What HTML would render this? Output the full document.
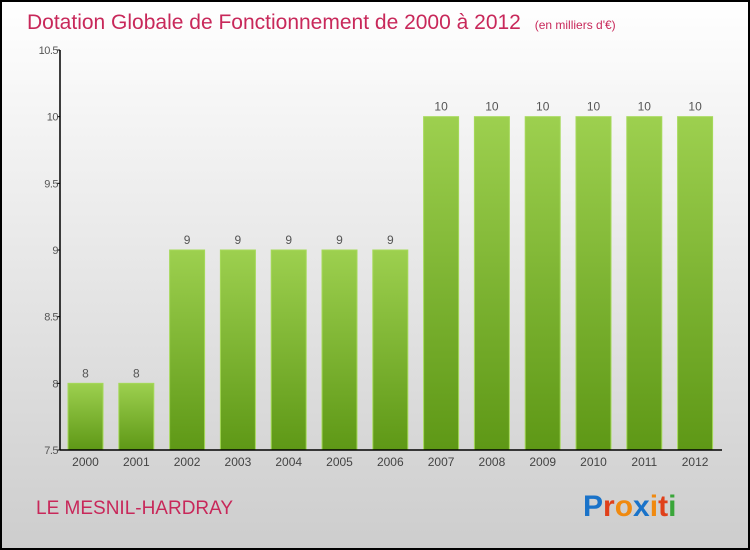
<!DOCTYPE html>
<html><head><meta charset="utf-8"><style>
body{margin:0;width:750px;height:550px;overflow:hidden}
svg{display:block}
text{font-family:"Liberation Sans",sans-serif}
</style></head><body>
<svg id="c" width="750" height="550">
<defs>
<linearGradient id="bg" x1="0" y1="0" x2="0" y2="1"><stop offset="0" stop-color="#ffffff"/><stop offset="1" stop-color="#cdcdcd"/></linearGradient>
<linearGradient id="bar" x1="0" y1="0" x2="0" y2="1"><stop offset="0" stop-color="#9dd04f"/><stop offset="1" stop-color="#5e9816"/></linearGradient>
</defs>
<rect x="1" y="1" width="748" height="548" fill="url(#bg)" stroke="#000" stroke-width="2"/>
<text x="27" y="29" font-size="21" fill="#c8285a">Dotation Globale de Fonctionnement de 2000 à 2012 <tspan font-size="12" dx="8">(en milliers d'€)</tspan></text>
<text x="36" y="514" font-size="19" fill="#c8285a">LE MESNIL-HARDRAY</text>
<g font-size="30" font-weight="bold">
<text x="583" y="516"><tspan fill="#1a73c9">P</tspan><tspan fill="#e0401a">r</tspan><tspan fill="#f08a10">o</tspan><tspan fill="#1a73c9">x</tspan><tspan fill="#f08a10">i</tspan><tspan fill="#e0401a">t</tspan><tspan fill="#3aa63a">i</tspan></text>
</g>
<g id="plot"></g>
</svg>
<script>
const categories=["2000","2001","2002","2003","2004","2005","2006","2007","2008","2009","2010","2011","2012"];
const values=[8,8,9,9,9,9,9,10,10,10,10,10,10];
const yTicks=[7.5,8,8.5,9,9.5,10,10.5];
const yMin=7.5,yMax=10.5,plotTop=50,plotBottom=450,plotLeft=60,plotRight=722;
const y=v=>plotBottom-(v-yMin)/(yMax-yMin)*(plotBottom-plotTop);
const x=i=>85.5+i*50.8;
const NS="http://www.w3.org/2000/svg";
const g=document.getElementById("plot");
function mk(t,a){const e=document.createElementNS(NS,t);for(const k in a)e.setAttribute(k,a[k]);g.appendChild(e);return e;}
values.forEach((v,i)=>{
 const r=mk("rect",{x:x(i)-17.5,y:y(v),width:35,height:plotBottom-y(v),fill:"url(#bar)",stroke:"#a6d95a","stroke-width":1});
 
 
 const t=mk("text",{x:x(i),y:y(v)-6,"text-anchor":"middle","font-size":12,fill:"#555"});
 t.textContent=v;
 
 
 const c=mk("text",{x:x(i),y:plotBottom+16,"text-anchor":"middle","font-size":12,fill:"#444"});
 c.textContent=categories[i];
 
 
});
yTicks.forEach(v=>{
 const l=mk("line",{x1:plotLeft-3,x2:plotLeft,y1:y(v),y2:y(v),stroke:"#000"});
 
 
 const t=mk("text",{x:plotLeft-2,y:y(v)+4,"text-anchor":"end","font-size":11,fill:"#555","letter-spacing":"-0.5"});
 t.textContent=v;
 
 
});
const ya=mk("line",{x1:plotLeft,x2:plotLeft,y1:plotTop,y2:plotBottom,stroke:"#000","stroke-width":1.5});


const xa=mk("line",{x1:plotLeft,x2:plotRight,y1:plotBottom,y2:plotBottom,stroke:"#000","stroke-width":1.5});


</script>
</body></html>
